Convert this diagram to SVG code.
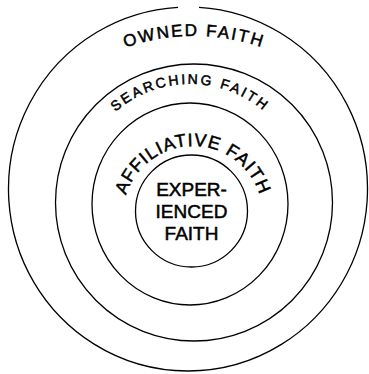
<svg xmlns="http://www.w3.org/2000/svg" width="369" height="374" viewBox="0 0 369 374">
<style>
.ring{fill:none;stroke:#000;stroke-width:1.3}
.lbl{font-family:"Liberation Sans",Arial,sans-serif;fill:#000;stroke:#000;stroke-width:0.5}
</style>
<defs>
<path id="pOwned" d="M -17 247 A 211 211 0 0 1 405 247"/>
<path id="pSearch" d="M 76 198 A 114 114 0 0 1 304 198"/>
<path id="pAffil" d="M 123 216 A 70 70 0 0 1 263 216"/>
</defs>
<rect width="369" height="374" fill="#fff"/>
<g id="owned">
<path class="ring" d="M 199 7.34 A 179.5 182 0 1 1 178 7.28"/>
<text class="lbl" font-size="17" letter-spacing="2" text-anchor="middle"><textPath href="#pOwned" startOffset="50%">OWNED FAITH</textPath></text>
</g>
<g id="searching">
<circle class="ring" cx="194" cy="202.5" r="138.5"/>
<text class="lbl" font-size="14" letter-spacing="2.4" text-anchor="middle"><textPath href="#pSearch" startOffset="50%">SEARCHING FAITH</textPath></text>
</g>
<g id="affiliative">
<ellipse class="ring" cx="190" cy="204" rx="98" ry="101"/>
<text class="lbl" font-size="18" letter-spacing="1" text-anchor="middle"><textPath href="#pAffil" startOffset="50%">AFFILIATIVE FAITH</textPath></text>
</g>
<g id="experienced">
<circle class="ring" cx="191.5" cy="211" r="56"/>
<text class="lbl" font-size="19" text-anchor="middle"><tspan x="191.5" y="196">EXPER-</tspan><tspan x="191.5" y="218">IENCED</tspan><tspan x="191.5" y="240">FAITH</tspan></text>
</g>
<g id="connectors"/>
</svg>
